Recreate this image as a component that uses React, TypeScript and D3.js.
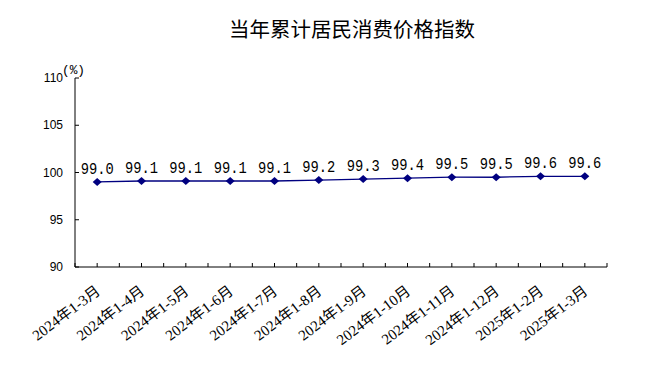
import React from "react";
import * as d3 from "d3";

const categories = ["2024年1-3月","2024年1-4月","2024年1-5月","2024年1-6月","2024年1-7月","2024年1-8月","2024年1-9月","2024年1-10月","2024年1-11月","2024年1-12月","2025年1-2月","2025年1-3月"];
const values = [99.0, 99.1, 99.1, 99.1, 99.1, 99.2, 99.3, 99.4, 99.5, 99.5, 99.6, 99.6];
const yTicks = [90, 95, 100, 105, 110];
const title = "当年累计居民消费价格指数";
const unit = "(%)";

export default function App() {
  const W = 645, H = 378;
  const left = 75, right = 607, top = 78, bottom = 267;
  const x = d3.scaleBand<string>().domain(categories).range([left, right]);
  const y = d3.scaleLinear().domain([90, 110]).range([bottom, top]);
  const cx = (c: string) => (x(c) as number) + x.bandwidth() / 2;
  const line = d3.line<number>().x((_, i) => cx(categories[i])).y(v => y(v));
  const minorTicks: number[] = [];
  categories.forEach(c => { minorTicks.push(x(c) as number); minorTicks.push(cx(c)); });
  minorTicks.push(right);
  const diamond = "M0,-4L4.5,0L0,4L-4.5,0Z";
  return (
    <svg width={W} height={H} style={{ position: "absolute", left: 0, top: 0, background: "#fff" }}>
      <text x={352} y={37} textAnchor="middle" fontFamily="'Noto Sans CJK SC', sans-serif" fontSize={20.5} fill="#000">{title}</text>
      <text x={62} y={74} textLength={23} lengthAdjust="spacingAndGlyphs" fontFamily="'Liberation Mono', 'Noto Sans CJK SC', monospace" fontSize={13} fill="#000">{unit}</text>
      {yTicks.map(t => (
        <g key={t}>
          <line x1={left} x2={left + 4} y1={y(t)} y2={y(t)} stroke="#000" />
          <text x={63} y={y(t)} dy="0.35em" textAnchor="end" fontFamily="'Liberation Sans', Arial, sans-serif" fontSize={12} fill="#000">{t}</text>
        </g>
      ))}
      <line x1={left} x2={left} y1={top} y2={bottom} stroke="#000" />
      <line x1={left} x2={right} y1={bottom} y2={bottom} stroke="#000" />
      {minorTicks.map((t, i) => (
        <line key={i} x1={t} x2={t} y1={bottom} y2={bottom - 4} stroke="#000" />
      ))}
      <path d={line(values) || ""} fill="none" stroke="#000080" strokeWidth={1.3} />
      {values.map((v, i) => (
        <g key={i}>
          <path d={diamond} transform={`translate(${cx(categories[i])},${y(v)})`} fill="#000080" />
          <text x={cx(categories[i])} y={y(v) - 8} textAnchor="middle" textLength={33} lengthAdjust="spacingAndGlyphs" fontFamily="'Liberation Mono', monospace" fontSize={16} fill="#000">{v.toFixed(1)}</text>
        </g>
      ))}
      {categories.map(c => (
        <text key={c} transform={`translate(${cx(c) + 4},${bottom + 26}) rotate(-37)`} textAnchor="end" fontFamily="'Liberation Serif', 'Noto Sans CJK SC', serif" fontSize={15} fill="#000">{c}</text>
      ))}
    </svg>
  );
}
